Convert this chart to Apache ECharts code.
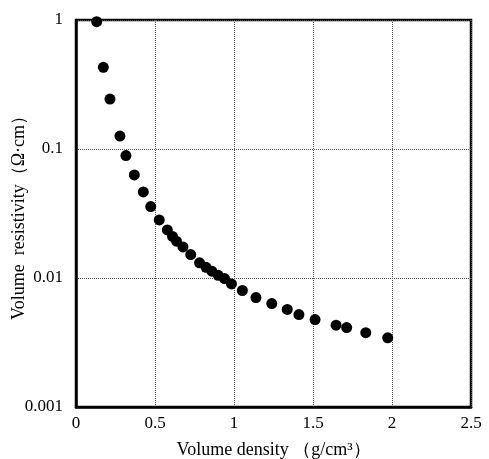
<!DOCTYPE html>
<html><head><meta charset="utf-8">
<script src="https://cdn.jsdelivr.net/npm/echarts@6/dist/echarts.min.js"></script>
<style>html,body{margin:0;padding:0;background:#fff}#c{width:489px;height:459px}</style>
</head><body><div id="c"></div>
<script>
const density = [0.131,0.173,0.215,0.278,0.316,0.369,0.426,0.473,0.527,0.578,0.611,0.636,0.677,0.726,0.782,0.823,0.86,0.90,0.94,0.984,1.053,1.139,1.239,1.337,1.411,1.513,1.646,1.713,1.834,1.973];
const resistivity = [0.97,0.43,0.244,0.126,0.089,0.063,0.0465,0.0358,0.0282,0.0236,0.021,0.0193,0.0174,0.0152,0.0131,0.0121,0.0113,0.0105,0.0099,0.0090,0.0080,0.00705,0.00634,0.00571,0.00521,0.00476,0.00431,0.00413,0.00377,0.00344];
const xTicks = ['0','0.5','1','1.5','2','2.5'];
const yTicks = {1:'1',0.1:'0.1',0.01:'0.01',0.001:'0.001'};
const points = density.map((d,i)=>[d,resistivity[i]]);
const font = 'Liberation Serif';
const chart = echarts.init(document.getElementById('c'));
chart.setOption({
  animation:false,
  grid:{left:76,right:18,top:20,bottom:52,containLabel:false,outerBoundsMode:'none',show:true,borderColor:'#000',borderWidth:2.5,backgroundColor:'transparent'},
  xAxis:{type:'value',min:0,max:2.5,interval:0.5,
    name:'Volume density （g/cm³）',nameLocation:'middle',nameGap:34,nameMoveOverlap:false,
    nameTextStyle:{fontFamily:font,fontSize:18,color:'#000'},
    axisLine:{lineStyle:{color:'#000',width:2.5}},axisTick:{show:false},
    axisLabel:{fontFamily:font,fontSize:17,color:'#000',margin:8,formatter:(v)=>xTicks[Math.round(v/0.5)]},
    splitLine:{show:true,lineStyle:{type:'dotted',color:'#555',width:1}}},
  yAxis:{type:'log',logBase:10,min:0.001,max:1,
    name:'Volume  resistivity（Ω·cm）',nameLocation:'middle',nameGap:48,nameMoveOverlap:false,
    nameTextStyle:{fontFamily:font,fontSize:18,color:'#000'},
    axisLine:{lineStyle:{color:'#000',width:2.5}},axisTick:{show:false},
    axisLabel:{fontFamily:font,fontSize:17,color:'#000',margin:13,formatter:(v)=>{
      for (const k in yTicks){ if (Math.abs(Math.log10(v)-Math.log10(+k))<1e-6) return yTicks[k]; } return '';}},
    splitLine:{show:true,lineStyle:{type:'dotted',color:'#555',width:1}},minorSplitLine:{show:false}},
  series:[{type:'scatter',data:points,symbol:'circle',symbolSize:11,itemStyle:{color:'#000',opacity:1},clip:false}]
});
</script></body></html>
